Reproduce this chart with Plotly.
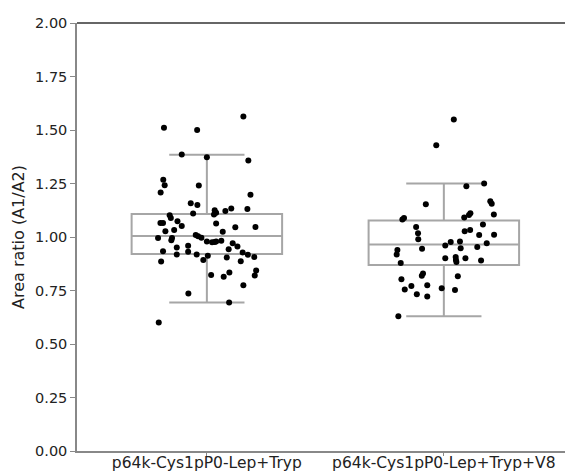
import plotly.graph_objects as go

categories = ["p64k-Cys1pP0-Lep+Tryp", "p64k-Cys1pP0-Lep+Tryp+V8"]

# box statistics
q1_vals = [0.920, 0.869]
median_vals = [1.005, 0.965]
q3_vals = [1.108, 1.077]
lower_whisker = [0.694, 0.630]
upper_whisker = [1.384, 1.250]

# group 1 points: ratio values and horizontal jitter (category units)
g1_values = [1.563, 1.510, 1.500, 1.385, 1.373, 1.357, 1.267, 1.242, 1.241, 1.208,
             1.197, 1.158, 1.149, 1.131, 1.133, 1.122, 1.125, 1.113, 1.105, 1.110,
             1.102, 1.089, 1.065, 1.065, 1.074, 1.063, 1.051, 1.046, 1.047, 1.033,
             1.027, 1.024, 0.995, 0.995, 0.985, 1.009, 1.004, 0.996, 0.979, 0.975,
             0.977, 0.979, 0.982, 0.933, 0.951, 0.918, 0.959, 0.931, 0.918, 0.893,
             0.912, 0.943, 0.971, 0.956, 0.904, 0.928, 0.917, 0.907, 0.887, 0.886,
             0.823, 0.814, 0.834, 0.844, 0.820, 0.774, 0.736, 0.694, 0.601]
g1_jitter = [0.154, -0.181, -0.041, -0.106, 0.000, 0.175, -0.184, -0.178, -0.034, -0.195,
             0.184, -0.068, -0.040, 0.171, 0.103, 0.078, 0.033, 0.039, 0.030, -0.058,
             -0.157, -0.152, -0.196, -0.185, -0.124, 0.039, -0.106, 0.120, 0.205, -0.138,
             -0.175, 0.067, -0.206, -0.147, -0.150, -0.047, -0.037, -0.023, 0.000, 0.022,
             0.033, 0.039, 0.061, -0.185, -0.127, -0.127, -0.079, -0.079, -0.043, -0.015,
             0.004, 0.092, 0.109, 0.129, 0.084, 0.151, 0.173, 0.200, 0.143, -0.193,
             0.018, 0.071, 0.095, 0.208, 0.202, 0.154, -0.078, 0.094, -0.203]

# group 2 points
g2_values = [1.549, 1.429, 1.250, 1.237, 1.153, 1.167, 1.155, 1.105, 1.111, 1.103,
             1.091, 1.089, 1.082, 1.047, 1.017, 0.989, 0.945, 0.939, 0.918, 0.878,
             1.027, 1.033, 1.058, 1.009, 1.010, 0.971, 0.953, 0.979, 0.977, 0.960,
             0.947, 0.901, 0.906, 0.893, 0.883, 0.901, 0.890, 0.803, 0.830, 0.819,
             0.817, 0.771, 0.755, 0.775, 0.733, 0.722, 0.760, 0.752, 0.630]
g2_jitter = [0.042, -0.032, 0.170, 0.095, -0.076, 0.196, 0.202, 0.211, 0.112, 0.106,
             0.086, -0.168, -0.175, -0.117, -0.109, -0.108, -0.092, -0.196, -0.199, -0.182,
             0.088, 0.111, 0.165, 0.149, 0.212, 0.181, 0.141, 0.068, 0.029, 0.006,
             0.071, 0.006, 0.050, 0.051, 0.053, 0.091, 0.157, -0.179, -0.088, -0.093,
             0.059, -0.137, -0.165, -0.070, -0.114, -0.070, -0.009, 0.047, -0.192]

y_ticks = [0.0, 0.25, 0.5, 0.75, 1.0, 1.25, 1.5, 1.75, 2.0]

FONT = "DejaVu Sans"
GREY = "#a6a6a6"

fig = go.Figure()

for i in range(len(categories)):
    fig.add_trace(go.Box(
        x=[i], q1=[q1_vals[i]], median=[median_vals[i]], q3=[q3_vals[i]],
        lowerfence=[lower_whisker[i]], upperfence=[upper_whisker[i]],
        width=0.635, whiskerwidth=0.5, boxpoints=False,
        line=dict(color=GREY, width=2), fillcolor="rgba(255,255,255,0)",
        showlegend=False, hoverinfo="skip",
    ))

groups = [(g1_values, g1_jitter), (g2_values, g2_jitter)]
for i, (vals, jit) in enumerate(groups):
    fig.add_trace(go.Scatter(
        x=[i + j for j in jit], y=vals, mode="markers",
        marker=dict(color="black", size=6),
        showlegend=False,
    ))

# the page adds an 8 px body margin, so the figure is 8 px smaller than the window
fig.update_layout(
    width=565, height=465,
    margin=dict(l=69, r=0, t=15, b=22, autoexpand=False),
    plot_bgcolor="white", paper_bgcolor="white",
    font=dict(family=FONT, size=14, color="#222222"),
    shapes=[dict(type="line", xref="paper", yref="paper", x0=0, x1=1, y0=1, y1=1,
                 line=dict(color="#333333", width=1.5))],
)
fig.update_xaxes(
    range=[-0.548, 1.545], tickvals=[0, 1], ticktext=categories,
    showline=True, linecolor="#888888", linewidth=1.5,
    ticks="outside", ticklen=3, tickcolor="#888888", ticklabelstandoff=-6,
    showgrid=False, zeroline=False, automargin=False,
    tickfont=dict(size=15.5, family=FONT, color="#222222"),
)
fig.update_yaxes(
    range=[0, 2], tickvals=y_ticks, tickformat=".2f",
    showline=True, linecolor="#888888", linewidth=1.5,
    ticks="outside", ticklen=5, tickcolor="#888888",
    showgrid=False, zeroline=False, automargin=False,
    title=dict(text="Area ratio (A1/A2)", standoff=6, font=dict(size=16, family=FONT)),
    tickfont=dict(size=14.5, family=FONT, color="#222222"),
)

fig.write_html("out.html")
